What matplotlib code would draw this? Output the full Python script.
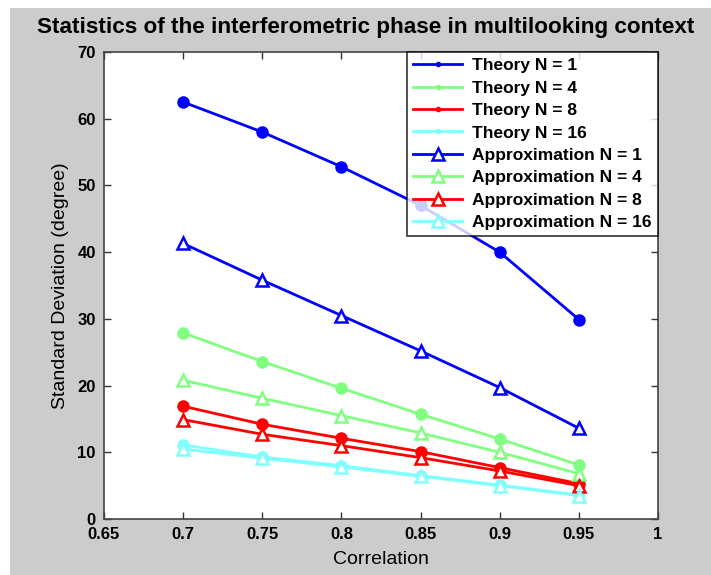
import matplotlib
matplotlib.use("Agg")
import matplotlib.pyplot as plt
from matplotlib.patches import Rectangle

plt.rcParams["font.family"] = ["Liberation Sans", "DejaVu Sans"]

correlation = [0.7, 0.75, 0.8, 0.85, 0.9, 0.95]

theory_n1 = [62.5, 58.0, 52.8, 47.0, 40.0, 29.9]
theory_n4 = [27.9, 23.6, 19.6, 15.7, 12.0, 8.1]
theory_n8 = [16.9, 14.2, 12.1, 10.1, 7.7, 5.3]
theory_n16 = [11.1, 9.3, 8.0, 6.5, 5.1, 3.6]

approx_n1 = [41.3, 35.8, 30.5, 25.2, 19.7, 13.6]
approx_n4 = [20.8, 18.1, 15.5, 12.9, 10.0, 6.8]
approx_n8 = [14.9, 12.7, 11.0, 9.2, 7.2, 5.0]
approx_n16 = [10.5, 9.1, 7.8, 6.4, 5.0, 3.5]

labels_n = ["1", "4", "8", "16"]
colors = ["#0000ff", "#80ff80", "#ff0000", "#80ffff"]

BG = "#cccccc"

fig = plt.figure(figsize=(7.11, 5.75), dpi=100, facecolor="white")
# grey MATLAB-style window background, white strip at top and left
fig.patches.append(Rectangle((10 / 711, -0.01), 1.1, 1.01 - 8 / 575, transform=fig.transFigure,
                             facecolor=BG, edgecolor="none", zorder=-10))
ax = fig.add_axes([104 / 711, 1 - 519 / 575, 554 / 711, 467 / 575])

theory = [theory_n1, theory_n4, theory_n8, theory_n16]
approx = [approx_n1, approx_n4, approx_n8, approx_n16]

for n, vals, c in zip(labels_n, theory, colors):
    ax.plot(correlation, vals, color=c, lw=2, marker="o", ms=8, mfc=c, mec=c,
            label=f"Theory N = {n}")
for n, vals, c in zip(labels_n, approx, colors):
    ax.plot(correlation, vals, color=c, lw=2, marker="^", ms=9, mfc="white", mec=c,
            mew=1.8, label=f"Approximation N = {n}")

ax.set_xlim(0.65, 1.0)
ax.set_ylim(0, 70)
ax.set_xticks([0.65, 0.7, 0.75, 0.8, 0.85, 0.9, 0.95, 1.0])
ax.set_xticklabels(["0.65", "0.7", "0.75", "0.8", "0.85", "0.9", "0.95", "1"])
ax.set_yticks(range(0, 71, 10))
ax.tick_params(direction="in", length=5, width=1, top=True, right=True,
               labelsize=12, colors="#333333", labelcolor="black", pad=6)
for lab in ax.get_xticklabels() + ax.get_yticklabels():
    lab.set_fontweight("bold")
for sp in ax.spines.values():
    sp.set_color("#444444")
    sp.set_linewidth(1.2)

ax.set_xlabel("Correlation", fontsize=14, labelpad=6)
ax.set_ylabel("Standard Deviation (degree)", fontsize=14, labelpad=6)
fig.text(366 / 711, 1 - 27 / 575,
         "Statistics of the interferometric phase in multilooking context",
         fontsize=16.2, fontweight="bold", ha="center", va="center")

leg = ax.legend(loc="upper right", frameon=True, fancybox=False,
                borderaxespad=0, handlelength=2.8, labelspacing=0.42,
                borderpad=0.35, handletextpad=0.6,
                prop={"weight": "bold", "size": 12.5})
leg.get_frame().set_edgecolor("black")
leg.get_frame().set_linewidth(1.2)
for h in leg.legend_handles[:4]:
    h.set_markersize(3)
for h in leg.legend_handles[4:]:
    h.set_markersize(8)

fig.savefig("out.png", dpi=100, facecolor=fig.get_facecolor())
